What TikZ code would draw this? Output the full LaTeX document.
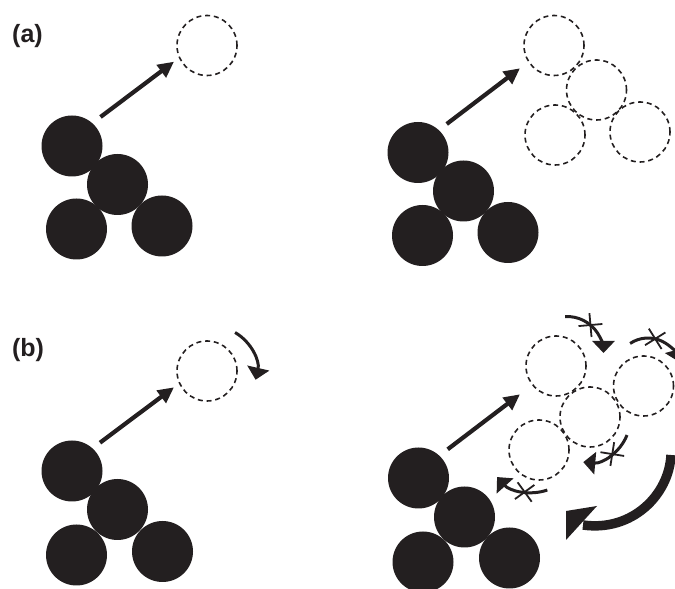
\documentclass[tikz,border=0pt]{standalone}
\usepackage{fontspec}
\setmainfont{Liberation Sans}
\usetikzlibrary{arrows.meta}
\definecolor{ink}{HTML}{231F20}

\tikzset{
  bead/.style={circle, fill=ink, minimum size=61pt, inner sep=0pt},
  ghostbead/.style={circle, draw=ink, line width=1.6pt, dash pattern=on 5pt off 3.8pt,
                    minimum size=60pt, inner sep=0pt},
  movearrow/.style={draw=ink, line width=4.2pt, -{Triangle[length=16pt 0 0,width=15pt 0 0]}},
  spinarrow/.style={draw=ink, line width=3pt, -{Triangle[length=12pt 0 0,width=22pt 0 0]}},
  tagtext/.style={font=\fontsize{25}{30}\selectfont\bfseries, text=ink, inner sep=0pt},
  barrier/.pic={\draw[ink, line width=1.8pt] (-45:12) -- (135:12) (45:12) -- (225:12);}
}

\begin{document}
\begin{tikzpicture}[x=1pt,y=1pt]
\useasboundingbox (0,0) rectangle (675,589);

% panel labels
\node[tagtext] (labA) at (27.5,553) {(a)};
\node[tagtext] (labB) at (28,239) {(b)};

% ---------- (a), left: one site leaves the cluster ----------
\node[bead] (aL1) at (72,443) {};
\node[bead] (aL2) at (117.5,404.5) {};
\node[bead] (aL3) at (76.5,360) {};
\node[bead] (aL4) at (162,363) {};
\node[ghostbead] (aLg) at (207,543.5) {};
\draw[movearrow] ([shift={(28.5,29)}]aL1.center) -- ([shift={(-33,-16.2)}]aLg.center);

% ---------- (a), right: the whole cluster moves ----------
\node[bead] (aR1) at (418,436.5) {};
\node[bead] (aR2) at (463.5,398) {};
\node[bead] (aR3) at (422.5,353.5) {};
\node[bead] (aR4) at (508,356.5) {};
\node[ghostbead] (aRg1) at (554,543.5) {};
\node[ghostbead] (aRg2) at (596.5,499) {};
\node[ghostbead] (aRg3) at (555,454) {};
\node[ghostbead] (aRg4) at (640,457) {};
\draw[movearrow] ([shift={(28.7,28.5)}]aR1.center) -- ([shift={(-34,-22.8)}]aRg1.center);

% ---------- (b), left: moving site with rotation ----------
\node[bead] (bL1) at (72,118) {};
\node[bead] (bL2) at (117.5,79.5) {};
\node[bead] (bL3) at (76.5,34) {};
\node[bead] (bL4) at (162.5,37.5) {};
\node[ghostbead] (bLg) at (207,218) {};
\draw[movearrow] ([shift={(28,28.3)}]bL1.center) -- ([shift={(-33,-16.3)}]bLg.center);
\coordinate (bLo) at ([shift={(6.4,1)}]bLg.center);
\draw[spinarrow] ([shift={(60:43.3)}]bLo) arc[start angle=60, end angle=-13, radius=43.3];

% ---------- (b), right: blocked rotations, rotation of the whole ----------
\node[bead] (bR1) at (418.5,111) {};
\node[bead] (bR2) at (464.5,72) {};
\node[bead] (bR3) at (423,27) {};
\node[bead] (bR4) at (509.5,31) {};
\node[ghostbead] (bRg1) at (556,223) {};
\node[ghostbead] (bRg2) at (643.5,203) {};
\node[ghostbead] (bRg3) at (590,172) {};
\node[ghostbead] (bRg4) at (539,139) {};
\draw[movearrow] ([shift={(29.2,28.7)}]bR1.center) -- ([shift={(-36,-28.3)}]bRg1.center);

\coordinate (o1) at ([shift={(11,13)}]bRg1.center);
\coordinate (o2) at ([shift={(4.5,16)}]bRg2.center);
\coordinate (o3) at ([shift={(-3,-2.3)}]bRg3.center);
\coordinate (o4) at ([shift={(-7,4.4)}]bRg4.center);

\draw[spinarrow] ([shift={(93:36.5)}]o1) arc[start angle=93, end angle=0, radius=36.5];
\draw[spinarrow] ([shift={(124:32)}]o2) arc[start angle=124, end angle=15, radius=32];
\draw[spinarrow] ([shift={(-21.5:43)}]o3) arc[start angle=-21.5, end angle=-95, radius=43];
\draw[spinarrow] ([shift={(-71:47)}]o4) arc[start angle=-71, end angle=-138, radius=47];

\pic[rotate=-40] at ([shift={(50:36.5)}]o1) {barrier};
\pic[rotate=-13] at ([shift={(77:32)}]o2) {barrier};
\pic[rotate=36] at ([shift={(-54:43)}]o3) {barrier};
\pic[rotate=-9] at ([shift={(-99:47)}]o4) {barrier};

% large turn of the whole group
\draw[ink, line width=9.5pt] (671,134) .. controls (669,94) and (632,57) .. (583,64);
\fill[ink] (566,78) -- (597,83) -- (566,49) -- cycle;
\end{tikzpicture}
\end{document}
